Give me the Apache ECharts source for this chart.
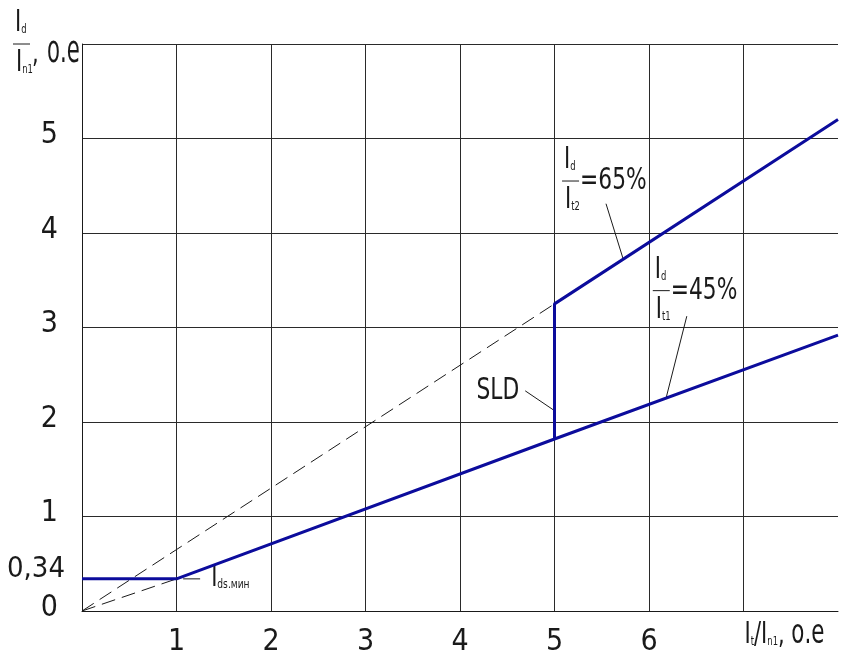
<!DOCTYPE html>
<html>
<head>
<meta charset="utf-8">
<script src="https://cdn.jsdelivr.net/npm/echarts@6/dist/echarts.min.js"></script>
<style>
  html, body { margin: 0; padding: 0; background: #fff; }
  #chart { width: 841px; height: 657px; }
</style>
</head>
<body>
<div id="chart"></div>
<script>
// Differential protection characteristic, Id/In1 versus It/In1 (o.e)
const FONT = '"DejaVu Sans Condensed", "Liberation Sans Narrow", sans-serif';
const INK = '#1a1a1a';
const BLUE = '#0c0c9c';
const SX = 0.78;   // horizontal squeeze of the drafting-style lettering

// axis ticks
const xTickLabels = [1, 2, 3, 4, 5, 6];
const yTickLabels = [0, 0.34, 1, 2, 3, 4, 5];
const xGridLines = [1, 2, 3, 4, 5, 6, 7];

// characteristic branches
const minLevel = [[0, 0.34], [1, 0.34]];              // Ids.мин
const slope45 = [[1, 0.34], [5, 1.82], [8, 2.92]];    // Id/It1 = 45%
const slope65 = [[5, 1.82], [5, 3.25], [8, 5.2]];     // SLD step + Id/It2 = 65%

// dashed construction lines through the origin
const guideMin = [[0, 0], [1, 0.34]];
const guide65 = [[0, 0], [5, 3.25]];

// leader lines for the callouts
const leaderMin = [[1.07, 0.34], [1.25, 0.34]];
const leaderSLD = [[4.69, 2.33], [5.0, 2.12]];
const leader65 = [[5.545, 4.31], [5.725, 3.73]];
const leader45 = [[6.4, 3.12], [6.18, 2.25]];

// anchors of the callout texts (data units)
const frac65Anchor = [5.08, 4.55];
const frac45Anchor = [6.04, 3.39];

const chart = echarts.init(document.getElementById('chart'));

function lineSeries(data, color, width, type, z) {
  return {
    type: 'line', data: data, symbol: 'none', silent: true, animation: false, z: z || 3,
    lineStyle: { color: color, width: width, type: type || 'solid' }
  };
}

chart.setOption({
  animation: false,
  grid: { left: 82, top: 44, right: 3, bottom: 42, containLabel: false },
  xAxis: {
    type: 'value', min: 0, max: 8, interval: 1,
    axisLine: { show: true, lineStyle: { color: INK, width: 1 } },
    axisTick: { show: false },
    splitLine: { show: false },
    axisLabel: {
      customValues: xTickLabels, margin: 16,
      fontSize: 30, fontFamily: FONT, color: INK
    }
  },
  yAxis: {
    type: 'value', min: 0, max: 6, interval: 1,
    axisLine: { show: true, lineStyle: { color: INK, width: 1 } },
    axisTick: { show: false },
    splitLine: { show: true, lineStyle: { color: '#2a2a2a', width: 1 } },
    axisLabel: {
      customValues: yTickLabels, margin: 17,
      formatter: function (v) {
        return v === 0.34 ? '{m|0,34}' : '{n|' + v + '}';
      },
      rich: {
        m: { fontSize: 29, fontFamily: FONT, color: INK, padding: [0, 0, 18, 0] },
        n: { fontSize: 30, fontFamily: FONT, color: INK, padding: [0, 7, 6, 0] }
      }
    }
  },
  series: [
    Object.assign(lineSeries([[0, 0]], INK, 1, 'solid', 1), {
      markLine: {
        silent: true, symbol: 'none', animation: false, z: 1,
        label: { show: false },
        lineStyle: { color: '#2a2a2a', width: 1, type: 'solid' },
        data: xGridLines.map(function (v) { return { xAxis: v }; })
      }
    }),
    lineSeries(guideMin, INK, 1, [14, 7]),
    lineSeries(guide65, INK, 1, [14, 7]),
    lineSeries(leaderMin, INK, 1),
    lineSeries(leaderSLD, INK, 1),
    lineSeries(leader65, INK, 1),
    lineSeries(leader45, INK, 1),
    lineSeries(minLevel, BLUE, 3, 'solid', 10),
    lineSeries(slope45, BLUE, 3, 'solid', 10),
    lineSeries(slope65, BLUE, 3, 'solid', 10)
  ]
});

// text runs with subscripts, set on a common baseline
const measure = document.createElement('canvas').getContext('2d');
const MID = 0.35;
function run(x, baseline, parts, align) {
  const widths = parts.map(function (p) {
    measure.font = p[1] + 'px ' + FONT;
    return measure.measureText(p[0]).width * (p[2] || SX);
  });
  const total = widths.reduce(function (a, b) { return a + b; }, 0);
  let cx = align === 'right' ? x - total : x;
  return parts.map(function (p, i) {
    const el = {
      type: 'text', silent: true, x: cx, y: baseline - MID * p[1], scaleX: p[2] || SX,
      style: { text: p[0], fontSize: p[1], fontFamily: FONT, fill: INK, align: 'left', verticalAlign: 'middle' }
    };
    cx += widths[i];
    return el;
  });
}
function bar(x, y, w) {
  return { type: 'line', silent: true, shape: { x1: x, y1: y, x2: x + w, y2: y }, style: { stroke: INK, lineWidth: 1 } };
}
function fraction(px, py, topSub, botSub, tail) {
  let els = [bar(px, py, 17)];
  els = els.concat(run(px + 2, py - 10, [['I', 30], [topSub, 12]]));
  els = els.concat(run(px + 3, py + 30, [['I', 30], [botSub, 12]]));
  if (tail) els = els.concat(run(px + 18, py + 11, [[tail, 31]]));
  return els;
}

const px = function (p) { return chart.convertToPixel({ gridIndex: 0 }, p); };
let g = [];

// y-axis title
const corner = px([0, 6]);
g = g.concat(fraction(corner[0] - 69, corner[1], 'd', 'n1', null));
g = g.concat(run(corner[0] - 50, corner[1] + 21, [[',', 30]]));
g = g.concat(run(corner[0] - 35, corner[1] + 21, [['о.е', 38, 0.62]]));

// x-axis title
const xa = px([7, 0]);
g = g.concat(run(xa[0] + 1, xa[1] + 35, [['I', 30], ['t', 12], ['/', 30], ['I', 30], ['n1', 12], [', ', 30], ['о.е', 34, 0.7]]));

// callouts
const f65 = px(frac65Anchor);
g = g.concat(fraction(f65[0], f65[1], 'd', 't2', '=65%'));
const f45 = px(frac45Anchor);
g = g.concat(fraction(f45[0], f45[1], 'd', 't1', '=45%'));

const sld = px(leaderSLD[0]);
g = g.concat(run(sld[0] - 6, sld[1] + 11, [['SLD', 31]], 'right'));

const mn = px(leaderMin[1]);
g = g.concat(run(mn[0] + 11, mn[1] + 10, [['I', 30], ['ds.мин', 13]]));

chart.setOption({ graphic: { elements: g } });
</script>
</body>
</html>
